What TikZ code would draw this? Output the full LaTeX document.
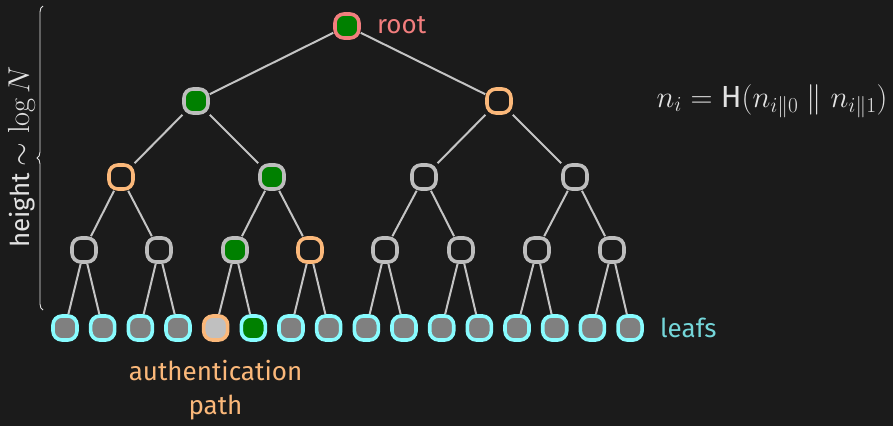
\documentclass[tikz,border=0pt]{standalone}
\usepackage{fix-cm}
\usepackage{fontspec}
\setsansfont{Fira Sans}
\usetikzlibrary{decorations.pathreplacing,backgrounds}
\definecolor{bg}{HTML}{1B1B1B}
\definecolor{pgreen}{HTML}{008000}
\definecolor{ppink}{HTML}{F27E7E}
\definecolor{porange}{HTML}{FBB87A}
\definecolor{pcyan}{HTML}{88FCFF}
\definecolor{leafgray}{HTML}{808080}
\definecolor{lightleaf}{HTML}{C0C0C0}
\definecolor{nodegray}{HTML}{BDBDBD}
\definecolor{edgegray}{HTML}{C4C4C4}
\definecolor{txt}{HTML}{E2E2E2}
\newcommand{\mathbig}{\fontsize{30.5}{34}\selectfont}
\begin{document}
\begin{tikzpicture}[x=1pt,y=-1pt,
  tn/.style={rectangle, rounded corners=9pt, minimum size=24pt, inner sep=0pt, line width=3.6pt},
  plain/.style={tn, draw=nodegray, fill=bg},
  sel/.style={tn, draw=nodegray, fill=pgreen},
  auth/.style={tn, draw=porange, fill=bg},
  rootn/.style={tn, draw=ppink, fill=pgreen},
  leaf/.style={tn, draw=pcyan, fill=leafgray},
  leafauth/.style={tn, draw=porange, fill=lightleaf},
  leafsel/.style={tn, draw=pcyan, fill=pgreen},
  edge/.style={draw=edgegray, line width=2pt},
  lbl/.style={font=\fontsize{26}{34}\selectfont\sffamily, inner sep=0pt}]
\useasboundingbox (0,0) rectangle (893,426);
% tree nodes
\node[rootn] (r) at (347,26) {};
\node[sel]  (a0) at (196,101) {};
\node[auth] (a1) at (499,101) {};
\node[auth]  (b0) at (121,177) {};
\node[sel]   (b1) at (272,177) {};
\node[plain] (b2) at (424,177) {};
\node[plain] (b3) at (575,177) {};
\node[plain] (c0) at (84,250) {};
\node[plain] (c1) at (159,250) {};
\node[sel]   (c2) at (235,250) {};
\node[auth]  (c3) at (310,250) {};
\node[plain] (c4) at (385,250) {};
\node[plain] (c5) at (461,250) {};
\node[plain] (c6) at (537,250) {};
\node[plain] (c7) at (612,250) {};
\foreach \i/\s in {0/leaf,1/leaf,2/leaf,3/leaf,4/leafauth,5/leafsel,6/leaf,7/leaf,8/leaf,9/leaf,10/leaf,11/leaf,12/leaf,13/leaf,14/leaf,15/leaf}
  \node[\s] (d\i) at ({65+37.67*\i},328) {};
% edges
\begin{scope}[on background layer]
\fill[bg] (0,0) rectangle (893,426);
\foreach \p/\c in {r/a0,r/a1,a0/b0,a0/b1,a1/b2,a1/b3,b0/c0,b0/c1,b1/c2,b1/c3,b2/c4,b2/c5,b3/c6,b3/c7}
  \draw[edge] (\p) -- (\c);
\foreach \i in {0,...,7}{
  \pgfmathtruncatemacro\l{2*\i}
  \pgfmathtruncatemacro\m{2*\i+1}
  \draw[edge] (c\i) -- (d\l);
  \draw[edge] (c\i) -- (d\m);
}
\end{scope}
% labels
\node[lbl, text=ppink, anchor=west] (rl) at (377,25) {root};
\node[lbl, text=pcyan!85!black, anchor=west] (ll) at (660,328) {leafs};
\node[lbl, text=porange, align=center] (al) at (215.5,390) {authentication\\path};
\node[lbl, text=txt, anchor=center] (fl) at (772,101) {\mathbig$n_i = \mathsf{H}(n_{i\|0} \parallel n_{i\|1})$};
\node[lbl, text=txt, rotate=90] (hl) at (22,157) {height {\mathbig$\sim \log N$}};
\coordinate (bb) at (43,310);
\coordinate (bt) at (43,6);
\draw[txt, line width=0.9pt, decorate, decoration={brace, amplitude=6pt}] (bb) -- (bt);
\end{tikzpicture}
\end{document}
